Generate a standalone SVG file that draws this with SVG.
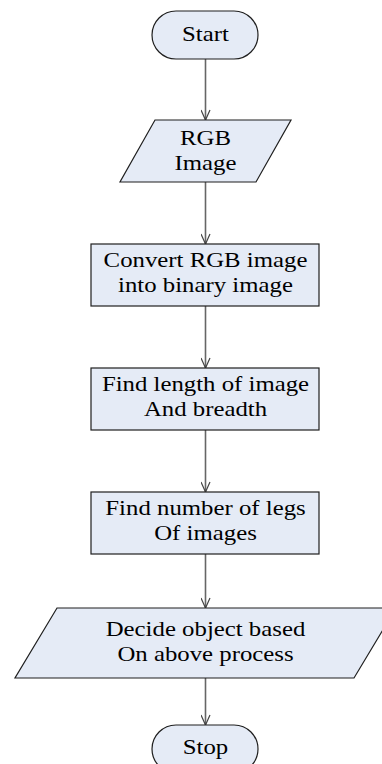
<svg xmlns="http://www.w3.org/2000/svg" width="382" height="764" viewBox="0 0 382 764">
  <style>
    .shape { fill: #e5ebf6; stroke: #1f1f1f; stroke-width: 1.2; }
    .label { font-family: "Liberation Serif", "Times New Roman", serif; font-size: 20px; fill: #000; text-anchor: middle; }
    .flow { stroke: #666; stroke-width: 1.6; fill: none; }
  </style>
  <defs>
    <marker id="arrow" viewBox="0 0 12 10" refX="11" refY="5" markerWidth="12" markerHeight="10" markerUnits="userSpaceOnUse" orient="auto">
      <path d="M1,0.5 L11,5 L1,9.5" fill="none" stroke="#444" stroke-width="1.2"/>
    </marker>
  </defs>

  <rect width="382" height="764" fill="#ffffff"/>

  <!-- connectors -->
  <g id="connectors">
    <line class="flow" x1="205.5" y1="59" x2="205.5" y2="120" marker-end="url(#arrow)"/>
    <line class="flow" x1="205.5" y1="182" x2="205.5" y2="244" marker-end="url(#arrow)"/>
    <line class="flow" x1="205.5" y1="306" x2="205.5" y2="368" marker-end="url(#arrow)"/>
    <line class="flow" x1="205.5" y1="430" x2="205.5" y2="492" marker-end="url(#arrow)"/>
    <line class="flow" x1="205.5" y1="554" x2="205.5" y2="608" marker-end="url(#arrow)"/>
    <line class="flow" x1="205.5" y1="678" x2="205.5" y2="725" marker-end="url(#arrow)"/>
  </g>

  <!-- text is widened horizontally about the centre line x=205.5 -->
  <g id="start">
    <rect class="shape" x="152" y="11" width="106" height="48" rx="24" ry="24"/>
    <text class="label" transform="matrix(1.24,0,0,1,-49.32,0)" x="205.5" y="41">Start</text>
  </g>

  <g id="rgb-image">
    <polygon class="shape" points="155,120 291,120 256,182 120,182"/>
    <g transform="matrix(1.24,0,0,1,-49.32,0)">
      <text class="label" x="205.5" y="145">RGB</text>
      <text class="label" x="205.5" y="170">Image</text>
    </g>
  </g>

  <g id="convert">
    <rect class="shape" x="91" y="244" width="228" height="62"/>
    <g transform="matrix(1.24,0,0,1,-49.32,0)">
      <text class="label" x="205.5" y="267">Convert RGB image</text>
      <text class="label" x="205.5" y="292">into binary image</text>
    </g>
  </g>

  <g id="length">
    <rect class="shape" x="91" y="368" width="228" height="62"/>
    <g transform="matrix(1.24,0,0,1,-49.32,0)">
      <text class="label" x="205.5" y="391">Find length of image</text>
      <text class="label" x="205.5" y="416">And breadth</text>
    </g>
  </g>

  <g id="legs">
    <rect class="shape" x="91" y="492" width="228" height="62"/>
    <g transform="matrix(1.24,0,0,1,-49.32,0)">
      <text class="label" x="205.5" y="515">Find number of legs</text>
      <text class="label" x="205.5" y="540">Of images</text>
    </g>
  </g>

  <g id="decide">
    <polygon class="shape" points="57,608 396,608 354,678 15,678"/>
    <g transform="matrix(1.24,0,0,1,-49.32,0)">
      <text class="label" x="205.5" y="636">Decide object based</text>
      <text class="label" x="205.5" y="661">On above process</text>
    </g>
  </g>

  <g id="stop">
    <rect class="shape" x="152" y="725" width="106" height="48" rx="24" ry="24"/>
    <text class="label" transform="matrix(1.24,0,0,1,-49.32,0)" x="205.5" y="754">Stop</text>
  </g>
</svg>
